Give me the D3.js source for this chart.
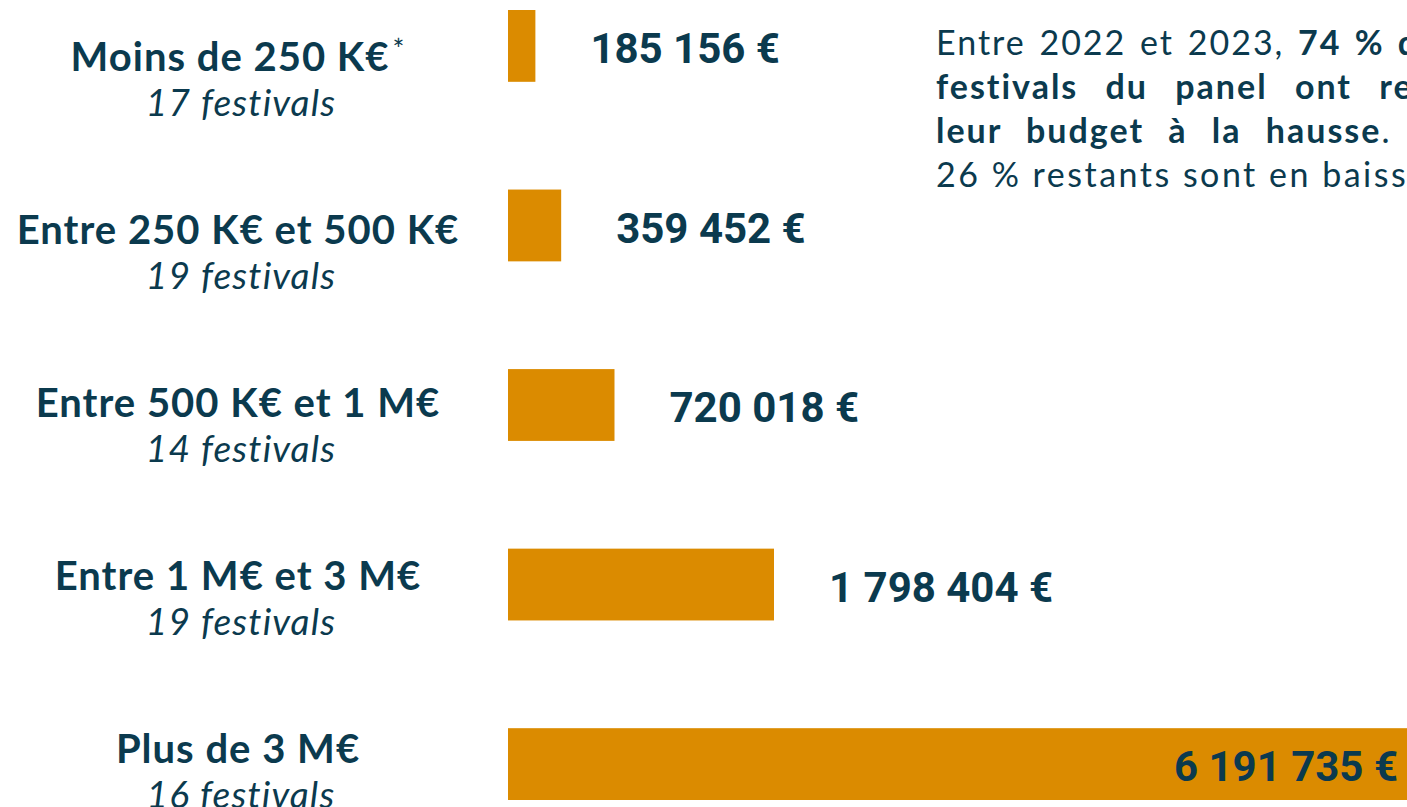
<!DOCTYPE html>
<html>
<head>
<meta charset="utf-8">
<script src="https://cdn.jsdelivr.net/npm/d3@7"></script>
<style>
  html, body { margin: 0; padding: 0; background: #fff; overflow: hidden; }
  svg { display: block; }
</style>
</head>
<body>
<div id="chart"></div>
<script>
// budget moyen par tranche de budget
var categories = ["Moins de 250 K€", "Entre 250 K€ et 500 K€", "Entre 500 K€ et 1 M€", "Entre 1 M€ et 3 M€", "Plus de 3 M€"];
var festivals = ["17 festivals", "19 festivals", "14 festivals", "19 festivals", "16 festivals"];
var budgets = [185156, 359452, 720018, 1798404, 6191735];
var valueLabels = ["185 156 €", "359 452 €", "720 018 €", "1 798 404 €", "6 191 735 €"];

var width = 1407, height = 807;
var navy = "#0b3a4e", orange = "#db8b00";

var svg = d3.select("#chart").append("svg")
    .attr("width", width)
    .attr("height", height);

var x = d3.scaleLinear().domain([0, 1798404]).range([508, 774]);
var y = d3.scaleBand().domain(categories).range([10, 800]).paddingInner(0.6).paddingOuter(0);
// les libellés de gauche ne sont pas alignés pile sur les barres
var yLab = d3.scalePoint().domain(categories).range([57, 749]);

svg.selectAll("rect.bar")
    .data(budgets)
  .enter().append("rect")
    .attr("class", "bar")
    .attr("x", x(0))
    .attr("y", function(d, i) { return y(categories[i]); })
    .attr("width", function(d) { return x(d) - x(0); })
    .attr("height", y.bandwidth())
    .attr("fill", orange);

// valeurs
svg.selectAll("text.val")
    .data(budgets)
  .enter().append("text")
    .attr("class", "val")
    .attr("x", function(d, i) { return i == 4 ? 1398 : x(d) + 55; })
    .attr("y", function(d, i) { return y(categories[i]) + y.bandwidth() / 2 + 2; })
    .attr("dy", "0.36em")
    .attr("text-anchor", function(d, i) { return i == 4 ? "end" : "start"; })
    .style("font-family", "Roboto, sans-serif")
    .style("font-weight", "bold")
    .style("font-size", "42px")
    .attr("fill", navy)
    .text(function(d, i) { return valueLabels[i]; });

// libellés de catégories
var lab = svg.selectAll("g.lab")
    .data(categories)
  .enter().append("g")
    .attr("class", "lab")
    .attr("transform", function(d) { return "translate(238," + yLab(d) + ")"; });

var title = lab.append("text")
    .attr("text-anchor", "middle")
    .attr("dy", "0.36em")
    .style("font-family", "Lato, sans-serif")
    .style("font-weight", "bold")
    .style("font-size", "40px")
    .style("letter-spacing", "1px")
    .attr("fill", navy)
    .text(function(d) { return d; });
title.filter(function(d, i) { return i == 0; })
  .append("tspan")
    .attr("dx", 3)
    .attr("dy", "-0.4em")
    .style("font-size", "28px")
    .style("font-weight", "normal")
    .text("*");

lab.append("text")
    .attr("text-anchor", "middle")
    .attr("x", 3)
    .attr("y", 46)
    .attr("dy", "0.36em")
    .style("font-family", "Lato, sans-serif")
    .style("font-style", "italic")
    .style("font-size", "37px")
    .style("letter-spacing", "1.2px")
    .attr("fill", navy)
    .text(function(d, i) { return festivals[i]; });

// commentaire en haut à droite (texte justifié, coupé au bord)
var lines = [
  [["Entre 2022 et 2023, ", false], ["74 % des", true]],
  [["festivals du panel ont revu", true]],
  [["leur budget à la hausse", true], [".    Les", false]],
  [["26 % restants sont en baisse.", false]]
];
var wordSp = [3, 17, 14, 0];
var letterSp = [2, 2, 2, 2.5];
var note = svg.append("g").attr("transform", "translate(936,0)");
lines.forEach(function(parts, li) {
  var t = note.append("text")
      .attr("x", 0)
      .attr("y", 55 + li * 44)
      .style("font-family", "Lato, sans-serif")
      .style("font-size", "34px")
      .style("word-spacing", wordSp[li] + "px")
      .style("white-space", "pre")
      .attr("fill", navy);
  parts.forEach(function(p) {
    t.append("tspan")
      .style("font-weight", p[1] ? "bold" : "normal")
      .style("letter-spacing", (p[1] ? 2 : letterSp[li]) + "px")
      .text(p[0]);
  });
});
</script>
</body>
</html>
